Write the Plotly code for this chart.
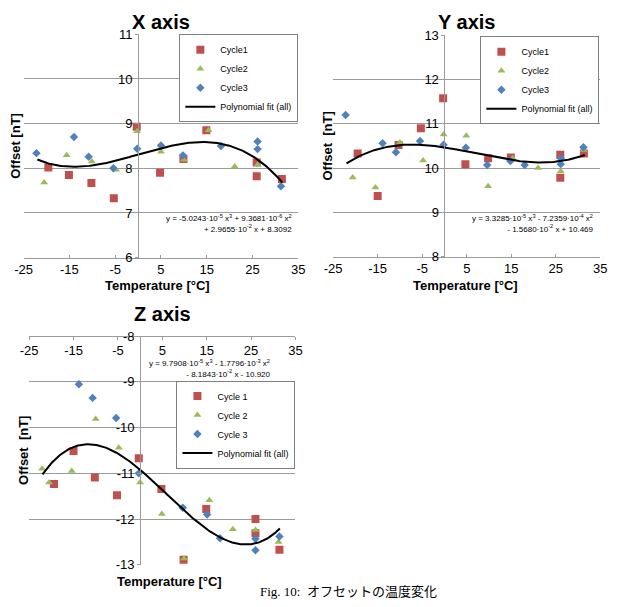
import numpy as np
import plotly.graph_objects as go

W, H = 621, 607

# ---------------- data ----------------
# X axis panel
x_c1_t = [-19.6, -15.1, -10.2, -5.3, -0.3, 4.8, 9.9, 14.9, 25.9, 25.9, 31.4]
x_c1_v = [8.02, 7.85, 7.67, 7.33, 8.93, 7.90, 8.21, 8.85, 8.13, 7.82, 7.76]
x_c2_t = [-20.5, -15.6, -10.1, -4.8, -0.2, 5.0, 10.0, 15.4, 21.1, 26.1]
x_c2_v = [7.68, 8.29, 8.15, 7.97, 8.83, 8.37, 8.19, 8.85, 8.04, 8.08]
x_c3_t = [-22.2, -14.0, -10.8, -5.4, -0.2, 5.0, 9.8, 15.2, 18.1, 26.1, 26.1, 31.2]
x_c3_v = [8.34, 8.70, 8.26, 8.00, 8.44, 8.51, 8.29, 9.16, 8.50, 8.60, 8.43, 7.60]
x_fit = [-5.0243e-5, 9.3681e-6, 2.9655e-2, 8.3092]

# Y axis panel
y_c1_t = [-19.5, -15.0, -10.3, -5.3, -0.3, 4.7, 9.8, 14.9, 26.0, 26.0, 31.3]
y_c1_v = [10.33, 9.37, 10.52, 10.90, 11.58, 10.09, 10.22, 10.24, 10.30, 9.78, 10.33]
y_c2_t = [-20.6, -15.5, -10.0, -4.8, -0.2, 4.9, 9.8, 15.3, 21.0, 26.1, 31.2]
y_c2_v = [9.79, 9.56, 10.58, 10.17, 10.76, 10.73, 9.59, 10.22, 10.00, 9.93, 10.41]
y_c3_t = [-22.2, -13.9, -10.9, -5.5, -0.2, 4.8, 9.6, 14.8, 18.0, 26.1, 26.1, 31.2]
y_c3_v = [11.20, 10.56, 10.36, 10.61, 10.53, 10.46, 10.07, 10.16, 10.07, 10.22, 10.09, 10.47]
y_fit = [3.3285e-5, -7.2359e-4, -1.5680e-2, 10.469]

# Z axis panel
z_c1_t = [-19.4, -15.0, -10.2, -5.2, -0.3, 4.8, 9.8, 14.9, 26.0, 26.0, 31.4]
z_c1_v = [-11.23, -10.51, -11.09, -11.48, -10.67, -11.34, -12.89, -11.78, -12.00, -12.31, -12.67]
z_c2_t = [-22.1, -20.5, -15.4, -10.0, -4.8, 0.0, 4.9, 9.9, 15.6, 20.9, 26.0, 31.2]
z_c2_v = [-10.90, -11.20, -10.95, -9.81, -10.44, -11.20, -11.89, -12.86, -11.59, -12.22, -12.24, -12.50]
z_c3_t = [-13.8, -10.7, -5.4, -0.3, 9.6, 15.1, 18.0, 26.0, 26.0, 31.4]
z_c3_v = [-9.05, -9.35, -9.79, -11.00, -11.75, -11.90, -12.42, -12.43, -12.68, -12.38]
z_fit = [9.7908e-5, -1.7796e-3, -8.1843e-2, -10.920]

fit_t_range = [-22.0, 31.5]
x_tick_vals = [-25, -15, -5, 5, 15, 25, 35]
x_tick_text = ["-25", "-15", "-5", "5", "15", "25", "35"]
x_y_ticks = [6, 7, 8, 9, 10, 11]
y_y_ticks = [8, 9, 10, 11, 12, 13]
z_y_ticks = [-13, -12, -11, -10, -9, -8]
z_y_text = ["-13", "-12", "-11", "-10", "-9", "-8"]

RED, GREEN, BLUE = "#C0504D", "#9BBB59", "#4F81BD"
FONT = "Liberation Sans, Arial, sans-serif"
GRID = "#9a9a9a"


def px_x(p):
    return p / W


def px_y(p):
    return 1 - p / H


fig = go.Figure()

panels = [
    dict(name="X axis", sfx="", leg="legend",
         data=[(x_c1_t, x_c1_v), (x_c2_t, x_c2_v), (x_c3_t, x_c3_v)], fit=x_fit,
         labels=["Cycle1", "Cycle2", "Cycle3"], yr=[6, 11], yticks=x_y_ticks,
         ytext=[str(v) for v in x_y_ticks],
         box=(15, 297, 28, 257), top=False,
         eq="y = -5.0243·10<sup>-5</sup> x<sup>3</sup> + 9.3681·10<sup>-6</sup> x<sup>2</sup><br>+ 2.9655·10<sup>-2</sup> x + 8.3092",
         eqpos=(293, 222), legpos=(297, 28), title_y=15, xt_y=286, xt_x=152, yt_x=7, yt_text="Offset [nT]"),
    dict(name="Y axis", sfx="2", leg="legend2",
         data=[(y_c1_t, y_c1_v), (y_c2_t, y_c2_v), (y_c3_t, y_c3_v)], fit=y_fit,
         labels=["Cycle1", "Cycle2", "Cycle3"], yr=[8, 13], yticks=y_y_ticks,
         ytext=[str(v) for v in y_y_ticks],
         box=(332.7, 607, 29, 256), top=False,
         eq="y = 3.3285·10<sup>-5</sup> x<sup>3</sup> - 7.2359·10<sup>-4</sup> x<sup>2</sup><br>- 1.5680·10<sup>-2</sup> x + 10.469",
         eqpos=(603, 222), legpos=(606, 30), title_y=15, xt_y=286, xt_x=469, yt_x=327, yt_text="Offset  [nT]"),
    dict(name="Z axis", sfx="3", leg="legend3",
         data=[(z_c1_t, z_c1_v), (z_c2_t, z_c2_v), (z_c3_t, z_c3_v)], fit=z_fit,
         labels=["Cycle 1", "Cycle 2", "Cycle 3"], yr=[-13, -7.99], yticks=z_y_ticks, ytext=z_y_text,
         box=(20.7, 294, 337, 572), top=True,
         eq="y = 9.7908·10<sup>-5</sup> x<sup>3</sup> - 1.7796·10<sup>-3</sup> x<sup>2</sup><br>- 8.1843·10<sup>-2</sup> x - 10.920",
         eqpos=(271, 371), legpos=(294, 383), title_y=315, xt_y=589, xt_x=165, yt_x=15, yt_text="Offset  [nT]"),
]

symbols = ["square", "triangle-up", "diamond"]
colors = [RED, GREEN, BLUE]
sizes = [8, 7, 6.5]

annotations = []
for p in panels:
    xa, ya = "x" + p["sfx"], "y" + p["sfx"]
    for (t, v), lab, sym, col, sz in zip(p["data"], p["labels"], symbols, colors, sizes):
        fig.add_trace(go.Scatter(x=t, y=v, mode="markers", name=lab, xaxis=xa, yaxis=ya,
                                 legend=p["leg"],
                                 marker=dict(symbol=sym, color=col, size=sz, line=dict(width=0))))
    tt = np.linspace(fit_t_range[0], fit_t_range[1], 200)
    fig.add_trace(go.Scatter(x=tt, y=np.polyval(p["fit"], tt), mode="lines",
                             name="Polynomial fit (all)", xaxis=xa, yaxis=ya, legend=p["leg"],
                             line=dict(color="black", width=2)))

    x0, x1, yt, yb = p["box"]
    xd = [px_x(x0), px_x(x1)]
    yd = [px_y(yb), px_y(yt)]
    ypos = xd[0] + (0 - (-25)) / 60 * (xd[1] - xd[0])
    xaxis = dict(domain=xd, range=[-25, 35], tickvals=x_tick_vals, ticktext=x_tick_text,
                 side="bottom", showgrid=False, zeroline=False,
                 showline=True, linecolor=GRID, linewidth=1,
                 ticks="inside", ticklen=3, tickcolor=GRID,
                 tickfont=dict(family=FONT, size=13, color="black"))
    if p["top"]:
        xaxis.update(anchor="free", position=px_y(yt), ticks="outside")
    else:
        xaxis.update(anchor=ya)
    fig.update_layout(**{
        "xaxis" + p["sfx"]: xaxis,
        "yaxis" + p["sfx"]: dict(domain=yd, range=p["yr"], tickvals=p["yticks"], ticktext=p["ytext"],
                                 anchor="free", position=ypos,
                                 showgrid=True, gridcolor=GRID, gridwidth=1, zeroline=False,
                                 showline=True, linecolor=GRID, linewidth=1,
                                 ticks="outside", ticklen=3, tickcolor=GRID,
                                 tickfont=dict(family=FONT, size=13, color="black")),
        p["leg"]: dict(x=px_x(p["legpos"][0]), y=px_y(p["legpos"][1]), xanchor="right", yanchor="top",
                       bgcolor="white", bordercolor="#808080", borderwidth=1,
                       font=dict(family=FONT, size=9, color="black"), tracegroupgap=0,
                       itemwidth=30),
    })
    annotations += [
        dict(text="<b>" + p["name"] + "</b>", x=(xd[0] + xd[1]) / 2, y=px_y(p["title_y"]),
             xanchor="center", yanchor="middle",
             xref="paper", yref="paper", showarrow=False, font=dict(family=FONT, size=20, color="black")),
        dict(text="<b>Temperature [°C]</b>", x=px_x(p["xt_x"]), y=px_y(p["xt_y"]),
             xanchor="center", yanchor="middle",
             xref="paper", yref="paper", showarrow=False, font=dict(family=FONT, size=13, color="black")),
        dict(text="<b>" + p["yt_text"] + "</b>", x=px_x(p["yt_x"]), y=(yd[0] + yd[1]) / 2,
             xanchor="center", yanchor="middle",
             xref="paper", yref="paper", showarrow=False, textangle=-90,
             font=dict(family=FONT, size=13, color="black")),
        dict(text=p["eq"], x=px_x(p["eqpos"][0]), y=px_y(p["eqpos"][1]), xref="paper", yref="paper",
             xanchor="right", yanchor="middle", align="right", showarrow=False,
             font=dict(family=FONT, size=8, color="black")),
    ]

annotations.append(dict(text="Fig. 10:  オフセットの温度変化", x=px_x(348), y=px_y(599),
                        xanchor="center", yanchor="middle",
                        xref="paper", yref="paper", showarrow=False,
                        font=dict(family="Liberation Serif, Noto Sans CJK JP, serif", size=13, color="black")))

fig.update_layout(width=W, height=H, margin=dict(l=0, r=0, t=0, b=0),
                  plot_bgcolor="white", paper_bgcolor="white",
                  annotations=annotations, showlegend=True)

fig.write_html("out.html")
